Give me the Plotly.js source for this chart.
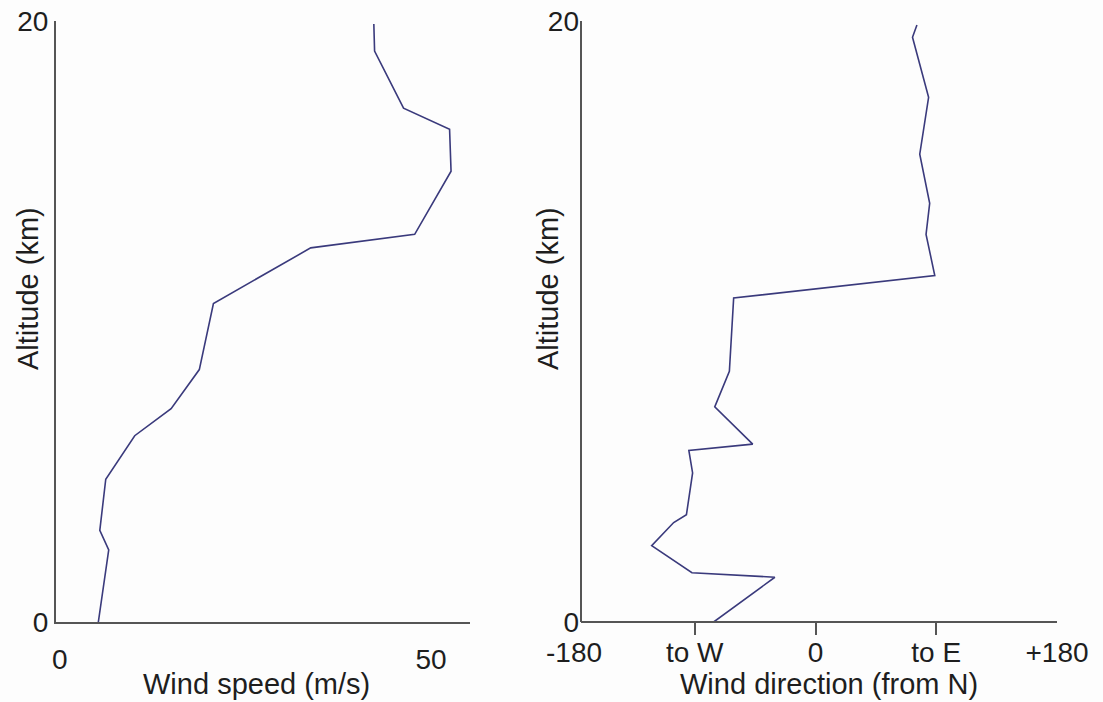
<!DOCTYPE html>
<html>
<head>
<meta charset="utf-8">
<script src="https://cdn.plot.ly/plotly-3.0.1.min.js"></script>
<style>html,body{margin:0;padding:0;background:#fdfdfd;}</style>
</head>
<body>
<div id="chart" style="width:1103px;height:702px;"></div>
<script>
// Left panel: wind speed profile
const speedAltitude = [19.9, 19.0, 17.1, 16.4, 15.0, 12.9, 12.45, 10.6, 8.4, 7.1, 6.2, 4.75, 3.05, 2.4, 0];
const windSpeed     = [42.3, 42.4, 46.3, 52.5, 52.7, 47.8, 33.8, 20.7, 18.8, 15.0, 10.1, 6.2, 5.4, 6.6, 5.2];

// Right panel: wind direction profile
const dirAltitude   = [19.87, 19.46, 17.46, 15.57, 13.93, 12.9, 11.53, 10.78, 8.34, 7.16, 5.92, 5.71, 4.96, 3.57, 3.31, 2.54, 1.64, 1.49, 0];
const windDirection = [75.6, 72.3, 84.3, 77.7, 85.1, 82.4, 88.9, -61.0, -64.2, -75.1, -46.8, -94.4, -91.6, -96.2, -105.7, -122.1, -92.1, -30.3, -75.9];

// Tick labels
const speedTickVals = [0, 50];
const speedTickText = ['0', '50'];
const altTickVals = [0, 20];
const altTickText = ['0', '20'];
const dirTickVals = [-180, -90, 0, 90, 180];
const dirTickText = ['-180', 'to W', '0', 'to E', '+180'];
const dirTickMarks = [-90, 0, 90];

// Titles
const speedTitle = 'Wind speed (m/s)';
const dirTitle = 'Wind direction (from N)';
const altTitle = 'Altitude (km)';

const W = 1103, H = 702;
const FONT = 'Liberation Sans, Arial, Helvetica, sans-serif';
const TXT = '#1e1e1e';
const AX = '#555555';
const LINE = '#3a3a7c';

const yDom = [(H - 622) / H, (H - 21) / H];
const x1Dom = [56 / W, 470 / W];
const x2Dom = [574 / W, 1057 / W];
const x2Start = (581 - 574) / (1057 - 574);

const tickFont = {family: FONT, size: 28, color: TXT};
const titleFont = {family: FONT, size: 29, color: TXT};

const traces = [
  {x: windSpeed, y: speedAltitude, xaxis: 'x', yaxis: 'y', type: 'scatter', mode: 'lines',
   line: {color: LINE, width: 1.6}, hoverinfo: 'skip', showlegend: false},
  {x: windDirection, y: dirAltitude, xaxis: 'x2', yaxis: 'y2', type: 'scatter', mode: 'lines',
   line: {color: LINE, width: 1.6}, hoverinfo: 'skip', showlegend: false, cliponaxis: false},
  {x: [], y: [], xaxis: 'x3', yaxis: 'y2', type: 'scatter', mode: 'lines', hoverinfo: 'skip', showlegend: false}
];

const layout = {
  width: W, height: H,
  margin: {l: 0, r: 0, t: 0, b: 0},
  paper_bgcolor: '#fdfdfd', plot_bgcolor: '#fdfdfd',
  showlegend: false,
  xaxis: {domain: x1Dom, range: [-0.5, 55.25], anchor: 'y', showline: true, linecolor: AX, linewidth: 2,
          ticks: '', tickmode: 'array', tickvals: speedTickVals, ticktext: speedTickText,
          showgrid: false, zeroline: false, tickfont: tickFont, ticklabelstandoff: 11, fixedrange: true},
  yaxis: {domain: yDom, range: [0, 20], anchor: 'x', showline: true, linecolor: AX, linewidth: 2,
          ticks: '', tickmode: 'array', tickvals: altTickVals, ticktext: altTickText,
          showgrid: false, zeroline: false, tickfont: tickFont, ticklabelstandoff: 0, fixedrange: true},
  xaxis2: {domain: x2Dom, range: [-180, 180], anchor: 'y2', showline: false,
           ticks: '', tickmode: 'array', tickvals: dirTickVals, ticktext: dirTickText,
           showgrid: false, zeroline: false, tickfont: tickFont, ticklabelstandoff: 11, fixedrange: true},
  xaxis3: {domain: x2Dom, range: [-180, 180], anchor: 'y2', overlaying: 'x2', showline: false,
           ticks: 'outside', ticklen: 12, tickwidth: 2, tickcolor: AX, tickmode: 'array', tickvals: dirTickMarks,
           showticklabels: false, showgrid: false, zeroline: false, fixedrange: true},
  yaxis2: {domain: yDom, range: [0, 20], anchor: 'free', position: 581 / W, showline: false,
           ticks: '', tickmode: 'array', tickvals: altTickVals, ticktext: altTickText,
           showgrid: false, zeroline: false, tickfont: tickFont, ticklabelstandoff: 2, fixedrange: true},
  shapes: [
    {type: 'line', xref: 'x2 domain', yref: 'y2 domain', x0: x2Start, x1: 1, y0: 0, y1: 0,
     line: {color: AX, width: 2}},
    {type: 'line', xref: 'x2 domain', yref: 'y2 domain', x0: x2Start, x1: x2Start, y0: 0, y1: 1,
     line: {color: AX, width: 2}}
  ],
  annotations: [
    {text: speedTitle, xref: 'paper', yref: 'paper', x: 256 / W, y: (H - 684) / H,
     xanchor: 'center', yanchor: 'middle', showarrow: false, font: titleFont},
    {text: dirTitle, xref: 'paper', yref: 'paper', x: 829 / W, y: (H - 684) / H,
     xanchor: 'center', yanchor: 'middle', showarrow: false, font: titleFont},
    {text: altTitle, xref: 'paper', yref: 'paper', x: 28 / W, y: (H - 289) / H, textangle: -90,
     xanchor: 'center', yanchor: 'middle', showarrow: false, font: titleFont},
    {text: altTitle, xref: 'paper', yref: 'paper', x: 548 / W, y: (H - 289) / H, textangle: -90,
     xanchor: 'center', yanchor: 'middle', showarrow: false, font: titleFont}
  ]
};

Plotly.newPlot('chart', traces, layout, {displayModeBar: false, staticPlot: true});
</script>
</body>
</html>
